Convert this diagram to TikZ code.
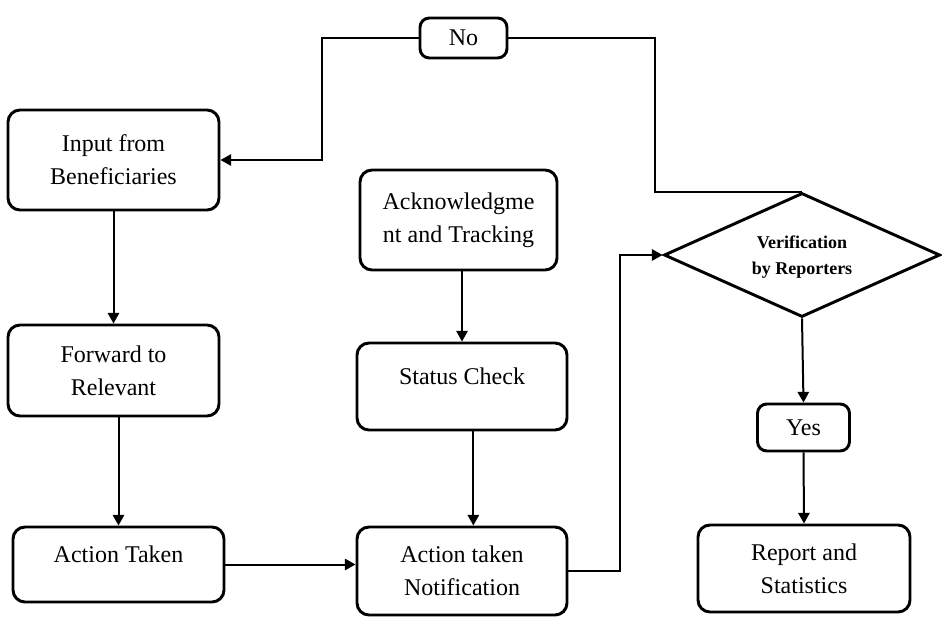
\documentclass[tikz,border=0pt]{standalone}
\usepackage{fontspec}
\setmainfont{Liberation Serif}
\usetikzlibrary{shapes.geometric,arrows.meta}
\begin{document}
\begin{tikzpicture}[x=0.75pt,y=-0.75pt,
  box/.style={draw, line width=2.2pt, rounded corners=9pt, align=center,
    inner sep=0pt, font=\fontsize{18}{25}\selectfont},
  tag/.style={box, rounded corners=7pt},
  decision/.style={diamond, draw, line width=2.2pt, inner sep=0pt, align=center,
    shape aspect=2.2, font=\bfseries\fontsize{13.5}{19}\selectfont},
  flow/.style={line width=1.5pt, -{Triangle[length=8pt,width=8.5pt]}},
  link/.style={line width=1.5pt},
  upper/.style={text height=12.6pt, text depth=16pt},
]
\useasboundingbox[fill=white] (0,0) rectangle (942,617);

% process boxes
\node[box, minimum width=158.25pt, minimum height=75pt] (input) at (113.5,160) {Input from\\Beneficiaries};
\node[box, minimum width=158.25pt, minimum height=68.25pt] (forward) at (113.5,370.5) {Forward to\\Relevant};
\node[box, upper, minimum width=158.25pt, minimum height=56.25pt] (taken) at (118.5,564.5) {Action Taken};
\node[box, minimum width=147.75pt, minimum height=75pt] (ack) at (458.5,220) {Acknowledgme\\nt and Tracking};
\node[box, upper, minimum width=157.5pt, minimum height=65.25pt] (status) at (462,386.5) {Status Check};
\node[box, minimum width=157.5pt, minimum height=66pt] (notif) at (462,571) {Action taken\\Notification};
\node[box, minimum width=159pt, minimum height=65.25pt] (report) at (804,568.5) {Report and\\Statistics};

% decision and its outcomes
\node[decision, minimum width=207pt, minimum height=93pt, text depth=0pt] (verify) at (802,255) {Verification\\by Reporters};
\node[tag, minimum width=65.25pt, minimum height=30pt] (no) at (463.5,38) {No};
\node[tag, minimum width=69pt, minimum height=35.25pt] (yes) at (803.5,427.5) {Yes};

% bend points
\coordinate (noleft) at (322,38);
\coordinate (noright) at (655,38);
\coordinate (notifout) at (620,571);

% connectors
\draw[flow] (no.west) -- (noleft) |- (input.east);
\draw[link] (no.east) -- (noright) |- (verify.north);
\draw[flow] (input.south) -- (forward.north);
\draw[flow] (taken.north |- forward.south) -- (taken.north);
\draw[flow] (status.north |- ack.south) -- (status.north);
\draw[flow] ([xshift=8.5pt]status.south) -- ([xshift=8.5pt]notif.north);
\draw[flow] (taken.east) -- (notif.west |- taken.east);
\draw[flow] (notif.east) -- (notifout) |- (verify.west);
\draw[flow] (verify.south) -- (yes.north);
\draw[flow] (yes.south) -- (report.north);
\end{tikzpicture}
\end{document}
